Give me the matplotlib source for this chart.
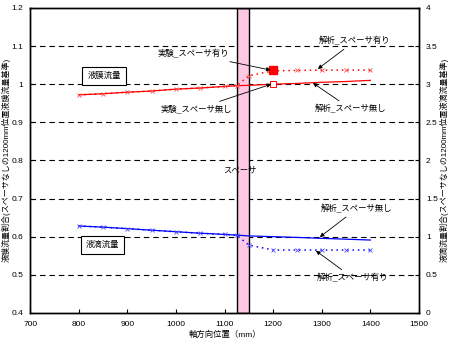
import matplotlib
matplotlib.use('Agg')
import matplotlib.pyplot as plt
import numpy as np

plt.rcParams['font.family'] = ['Liberation Sans', 'Noto Sans CJK JP', 'DejaVu Sans']

# axial positions (mm)
pos = [800, 850, 900, 950, 1000, 1050, 1100, 1125, 1150, 1200, 1250, 1300, 1350, 1400]

# liquid film flow ratio (left axis)
film_no_spacer = [0.972, 0.975, 0.979, 0.982, 0.987, 0.990, 0.994, 0.996, 0.997, 1.000, 1.002, 1.005, 1.007, 1.010]
film_spacer = [0.972, 0.975, 0.979, 0.982, 0.987, 0.990, 0.994, 0.996, 1.022, 1.035, 1.036, 1.037, 1.037, 1.037]
exp_pos = [1200]
exp_spacer = [1.037]
exp_no_spacer = [1.000]

# droplet flow ratio (right axis)
drop_no_spacer = [1.140, 1.125, 1.105, 1.085, 1.065, 1.045, 1.030, 1.020, 1.010, 1.000, 0.990, 0.978, 0.967, 0.956]
drop_spacer = [1.140, 1.125, 1.105, 1.085, 1.065, 1.045, 1.030, 1.020, 0.890, 0.825, 0.825, 0.825, 0.825, 0.825]

spacer_x = (1125, 1150)

left_ticks = [0.4, 0.5, 0.6, 0.7, 0.8, 0.9, 1.0, 1.1, 1.2]
left_labels = ['0.4', '0.5', '0.6', '0.7', '0.8', '0.9', '1', '1.1', '1.2']
right_ticks = [0, 0.5, 1, 1.5, 2, 2.5, 3, 3.5, 4]
right_labels = ['0', '0.5', '1', '1.5', '2', '2.5', '3', '3.5', '4']

fig = plt.figure(figsize=(4.5, 3.45), dpi=100)
ax = fig.add_axes([0.067, 0.093, 0.864, 0.884])
ax2 = ax.twinx()

ax.set_xlim(700, 1500)
ax.set_ylim(0.4, 1.2)
ax2.set_ylim(0, 4)

for y in left_ticks[1:-1]:
    ax.axhline(y, color='k', lw=0.8, ls=(0, (5, 3.5)), zorder=1)

ax.axvspan(spacer_x[0], spacer_x[1], facecolor='#fcc8e4', edgecolor='k', lw=1.0, zorder=2)

# film flow
ax.plot(pos, film_no_spacer, color='red', lw=0.9, zorder=3)
ax.plot(pos, film_spacer, color='red', lw=1.1, ls=(0, (1, 2.5)), marker='x',
        ms=3, mew=0.6, mec='#ff5050', zorder=3)
ax.plot(exp_pos, exp_spacer, ls='none', marker='s', ms=5.5, color='red', zorder=4)
ax.plot(exp_pos, exp_no_spacer, ls='none', marker='s', ms=5, mfc='white', mec='red', mew=0.7, zorder=4)

# droplet flow
ax2.plot(pos, drop_no_spacer, color='blue', lw=0.9, zorder=3)
ax2.plot(pos, drop_spacer, color='blue', lw=1.1, ls=(0, (1, 2.5)), marker='x',
         ms=3, mew=0.6, mec='#5050ff', zorder=3)

ax.set_xticks(range(700, 1501, 100))
ax.set_yticks(left_ticks)
ax.set_yticklabels(left_labels)
ax2.set_yticks(right_ticks)
ax2.set_yticklabels(right_labels)
ax.tick_params(direction='in', length=3, width=0.8, labelsize=6, pad=5)
ax.tick_params(axis='x', pad=6)
ax2.tick_params(direction='in', length=3, width=0.8, labelsize=6, pad=5)
for a in (ax, ax2):
    for s in a.spines.values():
        s.set_linewidth(1.0)

ax.set_xlabel('軸方向位置（mm）', fontsize=6, labelpad=2)
fig.text(6 / 450, 1 - 160 / 345, '液膜流量割合(スペーサなしの1200mm位置液膜流量基準)',
         fontsize=5.8, rotation=90, ha='center', va='center')
fig.text(444 / 450, 1 - 160 / 345, '液滴流量割合(スペーサなしの1200mm位置液滴流量基準)',
         fontsize=5.8, rotation=90, ha='center', va='center')

box = dict(boxstyle='square,pad=0.6', fc='white', ec='k', lw=0.8)
ax.text(852, 1.022, '液膜流量', fontsize=6, ha='center', va='center', bbox=box, zorder=5)
ax.text(849, 0.578, '液滴流量', fontsize=6, ha='center', va='center', bbox=box, zorder=5)
ax.text(1132, 0.772, 'スペーサ', fontsize=6, ha='center', va='center', zorder=5)

arrow = dict(arrowstyle='-|>', color='k', lw=0.6, mutation_scale=6, shrinkA=1, shrinkB=0)
notes = [
    ('実験_スペーサ有り', (1195, 1.037), (1035, 1.079)),
    ('実験_スペーサ無し', (1196, 1.000), (1043, 0.935)),
    ('解析_スペーサ有り', (1292, 1.040), (1368, 1.113)),
    ('解析_スペーサ無し', (1282, 1.003), (1360, 0.935)),
    ('解析_スペーサ無し', (1296, 0.599), (1372, 0.673)),
    ('解析_スペーサ有り', (1288, 0.563), (1364, 0.492)),
]
for label, xy, xytext in notes:
    ax.annotate(label, xy=xy, xytext=xytext, fontsize=6, ha='center', va='center',
                arrowprops=arrow, zorder=6)

fig.savefig('out.png', dpi=100)
